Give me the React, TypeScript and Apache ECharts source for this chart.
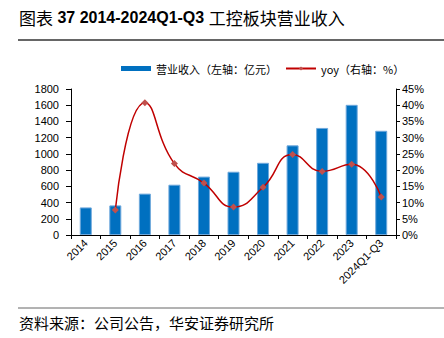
import React, { useEffect, useRef } from "react";
import * as echarts from "echarts";

const categories = ["2014", "2015", "2016", "2017", "2018", "2019", "2020", "2021", "2022", "2023", "2024Q1-Q3"];
const revenue = [340, 365, 510, 620, 720, 780, 890, 1105, 1320, 1605, 1285];
const yoy = [null, 7.7, 40.8, 22.0, 16.0, 8.6, 14.7, 24.8, 19.6, 21.8, 11.7];
const leftTicks = [0, 1800, 200];
const rightTicks = [0, 45, 5];

const titlePrefix = "图表";
const titleNumber = " 37 2014-2024Q1-Q3 ";
const titleSuffix = "工控板块营业收入";
const sourceText = "资料来源：公司公告，华安证券研究所";
const revenueName = "营业收入（左轴：亿元）";
const yoyName = "yoy（右轴：%）";

export default function App() {
  const ref = useRef<HTMLDivElement>(null);
  useEffect(() => {
    if (!ref.current) return;
    const chart = echarts.init(ref.current, null, { renderer: "svg" });
    const font = "'Liberation Sans', Arial, sans-serif";
    chart.setOption({
      animation: false,
      backgroundColor: "#ffffff",
      textStyle: { fontFamily: font },
      grid: { left: 71, right: 48, top: 89, bottom: 103, containLabel: false },
      legend: {
        left: 116,
        top: 58,
        itemWidth: 30,
        itemHeight: 5,
        itemGap: 8,
        textStyle: { fontSize: 11, color: "#000", fontFamily: "'Noto Sans CJK SC', " + font },
        data: [
          { name: revenueName, icon: "rect", itemStyle: { borderWidth: 0 } },
          { name: yoyName },
        ],
      },
      xAxis: {
        type: "category",
        data: categories,
        boundaryGap: true,
        axisLine: { lineStyle: { color: "#000", width: 1 } },
        axisTick: { show: true, alignWithLabel: false, length: 4, lineStyle: { color: "#000" } },
        axisLabel: { rotate: 45, fontSize: 11, color: "#000", margin: 6, interval: 0 },
      },
      yAxis: [
        {
          type: "value",
          min: leftTicks[0],
          max: leftTicks[1],
          interval: leftTicks[2],
          axisLine: { show: true, lineStyle: { color: "#000" } },
          axisTick: { show: true, length: 5, lineStyle: { color: "#000" } },
          axisLabel: { fontSize: 11, color: "#000", margin: 12, formatter: (v: number) => String(v) },
          splitLine: { show: false },
        },
        {
          type: "value",
          min: rightTicks[0],
          max: rightTicks[1],
          interval: rightTicks[2],
          position: "right",
          axisLine: { show: true, lineStyle: { color: "#000" } },
          axisTick: { show: true, length: 4, lineStyle: { color: "#000" } },
          axisLabel: { fontSize: 11, color: "#000", margin: 6, formatter: "{value}%" },
          splitLine: { show: false },
        },
      ],
      series: [
        {
          name: revenueName,
          type: "bar",
          data: revenue,
          barWidth: 12,
          yAxisIndex: 0,
          itemStyle: { color: "#0070C0", borderColor: "#6FA8DC", borderWidth: 1 },
        },
        {
          name: yoyName,
          type: "line",
          data: yoy,
          yAxisIndex: 1,
          smooth: 0.5,
          connectNulls: false,
          symbol: "diamond",
          symbolSize: 7,
          lineStyle: { color: "#C00000", width: 1.5 },
          itemStyle: { color: "#C0504D" },
        },
      ],
      graphic: [
        {
          type: "text",
          left: 19,
          top: 9,
          style: {
            text: "{a|" + titlePrefix + "}{b|" + titleNumber + "}{a|" + titleSuffix + "}",
            rich: {
              a: { fontSize: 17, fontFamily: "'Noto Sans CJK SC', sans-serif", fontWeight: "normal", fill: "#000" },
              b: { fontSize: 16, fontFamily: "'Liberation Sans', Arial, sans-serif", fontWeight: "bold", fill: "#000" },
            },
          },
        },
        {
          type: "line",
          shape: { x1: 18, y1: 40, x2: 444, y2: 40 },
          style: { stroke: "#333", lineWidth: 1.5 },
        },
        {
          type: "line",
          shape: { x1: 18, y1: 308, x2: 444, y2: 308 },
          style: { stroke: "#666", lineWidth: 1 },
        },
        {
          type: "text",
          left: 19,
          top: 315,
          style: {
            text: sourceText,
            font: "15px 'Noto Sans CJK SC', sans-serif",
            fill: "#000",
          },
        },
      ],
    });
    return () => chart.dispose();
  }, []);
  return <div ref={ref} style={{ width: 444, height: 338, position: "absolute", left: 0, top: 0 }} />;
}
